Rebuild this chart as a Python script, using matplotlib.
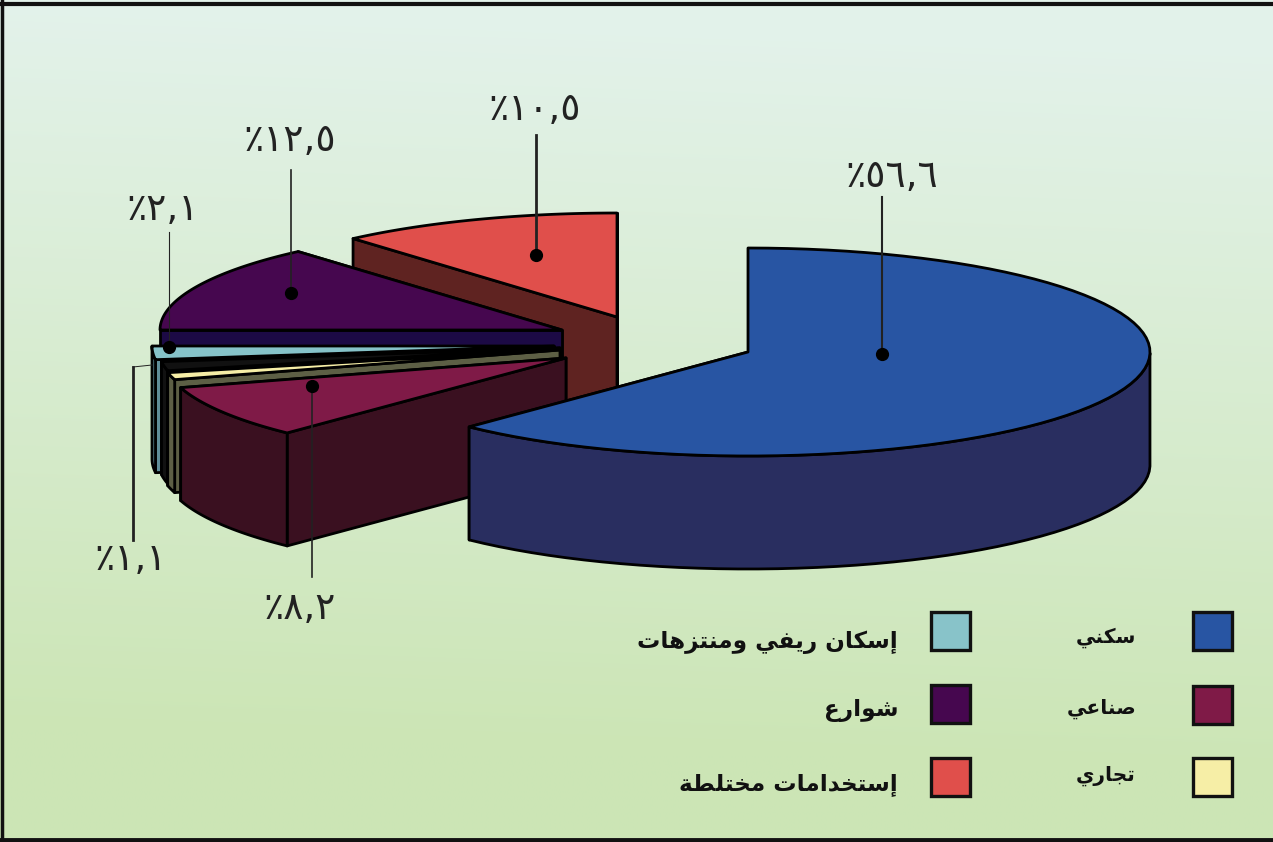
"""Land use shares: exploded 3D pie on a green gradient panel."""

import matplotlib

matplotlib.use("Agg")
import matplotlib.pyplot as plt
import numpy as np
from matplotlib.patches import Polygon, Rectangle

# slice widths (per cent of the circle), clockwise from 12 o'clock
slice_names = ["residential", "industrial", "commercial", "unlabelled", "rural", "streets", "mixed"]
slice_shares = [62.2, 8.2, 1.1, 1.4, 2.1, 13.6, 11.4]
top_colors = ["#2855a3", "#7f1a47", "#f6eea6", "#111111", "#86c3c9", "#46074f", "#e04f4b"]
side_colors = ["#292e60", "#3a1020", "#5d5f45", "#111111", "#5f8d98", "#1c0a45", "#5f2321"]

legend_labels = ["سكني", "صناعي", "تجاري", "إسكان ريفي ومنتزهات", "شوارع", "إستخدامات مختلطة"]
legend_colors = ["#2855a3", "#7f1a47", "#f6eea6", "#88c3c9", "#46074f", "#e04f4b"]
percent_labels = ["٪٥٦,٦", "٪٨,٢", "٪١,١", "٪٢,١", "٪١٢,٥", "٪١٠,٥"]

# layout, in reference pixels
CENTERS = [(748, 352), (566, 358), (560, 350), (560, 348), (554, 346), (562, 330), (617, 317)]
RX, RY, DEPTH = 402, 104, 113
LABEL_XY = [(892, 177), (300, 609), (131, 560), (163, 210), (290, 141), (535, 110)]
# (points, width, dot at the first point)
LEADERS = [
    ([(882, 354), (882, 197)], 1.5, True),
    ([(312, 386), (312, 577)], 1.2, True),
    ([(133, 367), (133, 540)], 2.0, False),
    ([(133, 367), (152, 365)], 0.7, False),
    ([(169, 347), (169, 232)], 0.8, True),
    ([(291, 293), (291, 170)], 1.2, True),
    ([(536, 255), (536, 135)], 2.0, True),
]
SWATCHES = [(1193, 612), (1193, 686), (1193, 758), (931, 612), (931, 685), (931, 758)]
TEXT_XY = [(1136, 638), (1136, 709), (1136, 776), (898, 642), (898, 711), (898, 785)]
TEXT_SIZES = [14.5, 14.5, 14.5, 16.7, 16.7, 16.7]

# Arabic shaping: matplotlib draws neither joins nor right-to-left, so do both here
ISOLATED = dict(zip("اإرزدوةعبتجخسشصطفكلمنهي", [
    0xFE8D, 0xFE87, 0xFEAD, 0xFEAF, 0xFEA9, 0xFEED, 0xFE93, 0xFEC9, 0xFE8F, 0xFE95, 0xFE9D,
    0xFEA5, 0xFEB1, 0xFEB5, 0xFEB9, 0xFEC1, 0xFED1, 0xFED9, 0xFEDD, 0xFEE1, 0xFEE5, 0xFEE9, 0xFEF1,
]))
RIGHT_ONLY = "اإرزدوة"


def shape(text):
    out = []
    for i, ch in enumerate(text):
        if ch not in ISOLATED:
            out.append(ch)
            continue
        before = i > 0 and text[i - 1] in ISOLATED and text[i - 1] not in RIGHT_ONLY
        after = i + 1 < len(text) and text[i + 1] in ISOLATED and ch not in RIGHT_ONLY
        form = 3 if before and after else 2 if after else 1 if before else 0
        out.append(chr(ISOLATED[ch] + form))
    return "".join(reversed(out))


def rim(center, theta):
    return np.column_stack([center[0] + RX * np.sin(theta), center[1] - RY * np.cos(theta)])


def draw_slice(ax, center, start, end, top, side, lw=2.0):
    theta = np.linspace(start, end, 80)
    edge = rim(center, theta)
    drop = np.array([0, DEPTH])
    kw = dict(edgecolor="black", linewidth=lw, joinstyle="round")
    # radial walls back to front, the top face hides whichever one faces away
    for p in sorted((edge[0], edge[-1]), key=lambda q: q[1]):
        ax.add_patch(Polygon([center, p, p + drop, np.array(center) + drop], facecolor=side, **kw))
    front = theta[(theta > np.pi / 2) & (theta < 3 * np.pi / 2)]
    if len(front):
        arc = rim(center, front)
        ax.add_patch(Polygon(np.vstack([arc, arc[::-1] + drop]), facecolor=side, **kw))
    ax.add_patch(Polygon(np.vstack([[center], edge]), facecolor=top, **kw))


fig = plt.figure(figsize=(12.73, 8.42), dpi=100)
ax = fig.add_axes([0, 0, 1, 1])

# background panel
top_bg, bottom_bg = np.array([0.89, 0.95, 0.92]), np.array([0.80, 0.90, 0.71])
yy, xx = np.mgrid[0:1:64j, 0:1:64j]
mix = np.clip(yy * 1.15 - 0.06 * xx, 0, 1)[..., None]
grad = top_bg * (1 - mix) + bottom_bg * mix
ax.imshow(grad, extent=(0, 1273, 842, 0), aspect="auto", zorder=0, interpolation="bilinear")
ax.set_xlim(0, 1273)
ax.set_ylim(842, 0)
ax.axis("off")
ax.plot([0, 1273], [4, 4], color="#111111", lw=3, zorder=5)
ax.plot([0, 1273], [840, 840], color="#111111", lw=3.5, zorder=5)
ax.plot([1.5, 1.5], [0, 842], color="#111111", lw=2.5, zorder=5)

angles = np.deg2rad(np.concatenate([[0], np.cumsum(slice_shares)]) * 3.6)
# back slices first, the residential one last so it sits in front
for i in [6, 5, 4, 3, 2, 1, 0]:
    draw_slice(ax, CENTERS[i], angles[i], angles[i + 1], top_colors[i], side_colors[i])

for pts, width, dot in LEADERS:
    xs, ys = zip(*pts)
    ax.plot(xs, ys, color="#222222", lw=width, zorder=6)
    if dot:
        ax.plot(xs[0], ys[0], "o", color="black", ms=8.5, zorder=7)

for label, (x, y) in zip(percent_labels, LABEL_XY):
    ax.text(x, y, label, ha="center", va="center", fontsize=27, color="#222222",
            family="DejaVu Sans", zorder=8)

for color, (x, y) in zip(legend_colors, SWATCHES):
    ax.add_patch(Rectangle((x, y), 39, 38, facecolor=color, edgecolor="#111111", linewidth=2.4, zorder=6))
for label, (x, y), size in zip(legend_labels, TEXT_XY, TEXT_SIZES):
    ax.text(x, y, shape(label), ha="right", va="center", fontsize=size, fontweight="bold",
            color="#111111", family="DejaVu Sans", zorder=8)

fig.savefig("out.png", dpi=100)
